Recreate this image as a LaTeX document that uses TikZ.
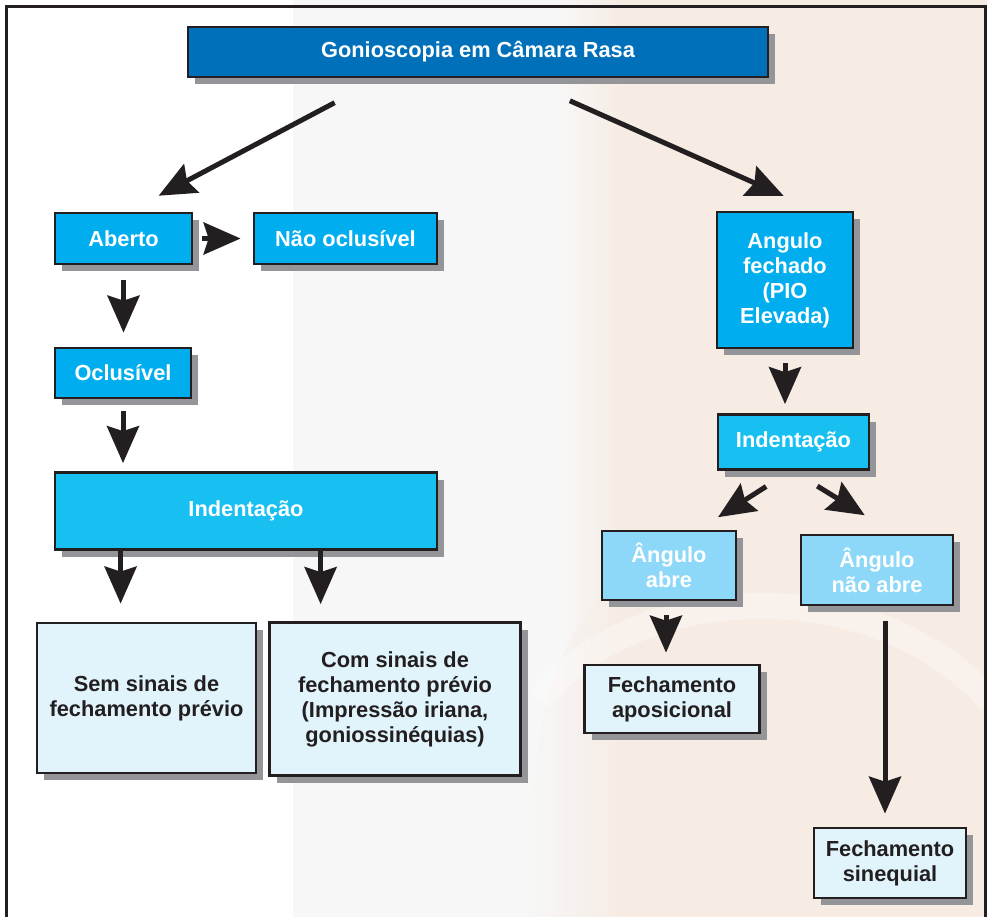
\documentclass[tikz,border=0pt]{standalone}
\usepackage{fontspec}
\setmainfont{Liberation Sans}
\usetikzlibrary{arrows.meta,shadows}

\definecolor{titleblue}{RGB}{0,112,186}
\definecolor{cyanfill}{RGB}{0,174,239}
\definecolor{indfill}{RGB}{24,192,241}
\definecolor{skyfill}{RGB}{141,216,248}
\definecolor{palefill}{RGB}{225,244,252}
\definecolor{shadowgray}{RGB}{147,149,152}
\definecolor{inkblack}{RGB}{35,31,32}
\definecolor{bggray}{RGB}{247,247,247}
\definecolor{bgpeach}{RGB}{246,236,228}

\tikzset{
  box/.style={draw=inkblack,line width=2.8pt,align=center,inner sep=0pt,
    font=\fontsize{21.8}{25}\selectfont\bfseries,
    drop shadow={shadow xshift=7pt,shadow yshift=-7pt,fill=shadowgray,opacity=1}},
  titlebox/.style={box,fill=titleblue,text=white},
  cyanbox/.style={box,fill=cyanfill,text=white},
  indbox/.style={box,fill=indfill,text=white},
  skybox/.style={box,fill=skyfill,text=white},
  palebox/.style={box,fill=palefill,text=inkblack},
  arr/.style={draw=inkblack,line width=5pt,-{Stealth[length=37pt,width=32pt,inset=5pt]}}
}

\begin{document}
\begin{tikzpicture}[x=1pt,y=-1pt]
\useasboundingbox (0,0) rectangle (987,917);
\clip (0,0) rectangle (987,917);
% backdrop and frame
\fill[white] (0,0) rectangle (987,917);
\fill[bggray] (293,0) rectangle (987,917);
\shade[left color=bggray,right color=bgpeach] (560,0) rectangle (620,917);
\fill[bgpeach] (620,0) rectangle (987,917);
\shade[left color=bggray,right color=bgpeach,opacity=0.8] (600,600) .. controls (560,640) and (530,700) .. (525,917) -- (620,917) -- (620,600) -- cycle;
\draw[white,opacity=0.3,line width=26pt] (540,700) .. controls (620,590) and (860,560) .. (990,700);
\draw[inkblack,line width=3pt] (6,930) -- (6,7) -- (985.5,7) -- (985.5,930);

% top
\node[titlebox,minimum width=580pt,minimum height=50pt] (title) at (478,52) {Gonioscopia em Câmara Rasa};

% left branch
\node[cyanbox,minimum width=137pt,minimum height=51pt] (aberto) at (123.5,238.5) {Aberto};
\node[cyanbox,minimum width=183pt,minimum height=51pt] (naoocl) at (345.5,238.5) {Não oclusível};
\node[cyanbox,minimum width=136pt,minimum height=50pt] (oclus) at (123,373) {Oclusível};
\node[indbox,minimum width=382pt,minimum height=77pt] (indL) at (246,511) {Indentação};
\node[palebox,minimum width=219pt,minimum height=150pt] (semsin) at (146.5,698) {Sem sinais de\\fechamento prévio};
\node[palebox,minimum width=251pt,minimum height=153pt] (comsin) at (395,699) {Com sinais de\\fechamento prévio\\(Impressão iriana,\\goniossinéquias)};

% right branch
\node[cyanbox,minimum width=136pt,minimum height=136pt] (angF) at (785,280) {Angulo\\fechado\\(PIO\\Elevada)};
\node[indbox,minimum width=151pt,minimum height=55pt] (indR) at (793.5,442) {Indentação};
\node[skybox,minimum width=134pt,minimum height=69pt] (abre) at (669,565.5) {Ângulo\\abre};
\node[skybox,minimum width=152pt,minimum height=70pt] (naoabre) at (877,570) {Ângulo\\não abre};
\node[palebox,minimum width=175pt,minimum height=68pt] (apos) at (672,699) {Fechamento\\aposicional};
\node[palebox,minimum width=152pt,minimum height=70pt] (sineq) at (890,863) {Fechamento\\sinequial};

% arrows
\draw[arr,shorten <=52pt,shorten >=34pt] ([xshift=194pt]title.south west) -- ([xshift=75pt]aberto.north west);
\draw[arr,shorten <=55pt,shorten >=36pt] ([xshift=333pt]title.south west) -- ([xshift=101pt]angF.north west);
\draw[arr,shorten <=9pt,shorten >=12pt] (aberto.east) -- (naoocl.west);
\draw[arr,shorten <=15pt,shorten >=14pt] (aberto.south) -- (aberto.south |- oclus.north);
\draw[arr,shorten <=12pt,shorten >=8pt] (oclus.south) -- (oclus.south |- indL.north);
\draw[arr,shorten >=18pt] ([xshift=67pt]indL.south west) -- ([xshift=67pt]indL.south west |- semsin.north);
\draw[arr,shorten >=17pt] ([xshift=267pt]indL.south west) -- ([xshift=267pt]indL.south west |- comsin.north);
\draw[arr,shorten <=14pt,shorten >=9pt] (angF.south) -- (angF.south |- indR.north);
\draw[arr,shorten <=29pt,shorten >=23pt] ([xshift=74pt]indR.south west) -- ([xshift=98pt]abre.north west);
\draw[arr,shorten <=29pt,shorten >=35pt] ([xshift=76pt]indR.south west) -- ([xshift=95pt]naoabre.north west);
\draw[arr,shorten <=14pt,shorten >=11pt] ([xshift=-3pt]abre.south) -- ([xshift=-3pt]abre.south |- apos.north);
\draw[arr,shorten <=15pt,shorten >=13pt] ([xshift=8pt]naoabre.south) -- ([xshift=8pt]naoabre.south |- sineq.north);
\end{tikzpicture}
\end{document}
